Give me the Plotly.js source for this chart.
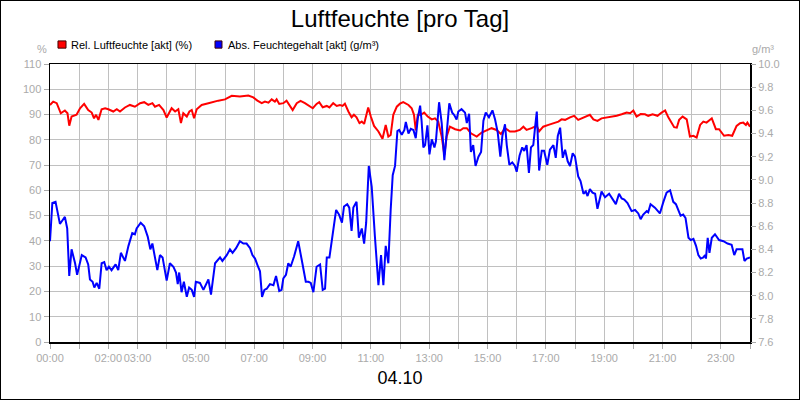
<!DOCTYPE html>
<html>
<head>
<meta charset="utf-8">
<script src="https://cdn.plot.ly/plotly-3.0.1.min.js"></script>
<style>
  html, body { margin: 0; padding: 0; background: #fff; }
  #frame { width: 800px; height: 400px; border: 1px solid #000; box-sizing: border-box; }
  #chart { width: 798px; height: 398px; }
</style>
</head>
<body>
<div id="frame"><div id="chart"></div></div>
<script>
// x axis: hours of the day (04.10)
const hourTicks = [0,1,2,3,4,5,6,7,8,9,10,11,12,13,14,15,16,17,18,19,20,21,22,23,24];
const hourLabels = ['00:00','','02:00','03:00','','05:00','','07:00','','09:00','','11:00','',
    '13:00','','15:00','','17:00','','19:00','','21:00','','23:00',''];

// Rel. Luftfeuchte [akt] (%)
const relHours = [0,0.11,0.23,0.37,0.51,0.6,0.66,0.74,0.91,1.03,1.17,1.31,1.43,1.51,1.58,1.66,1.77,1.89,2.0,2.17,2.29,2.4,2.57,2.74,2.91,3.09,3.23,3.37,3.51,3.6,3.74,3.89,4.0,4.17,4.29,4.4,4.49,4.57,4.69,4.78,4.86,4.94,5.03,5.2,5.43,5.6,5.77,
    6.0,6.23,6.51,6.8,6.97,7.11,7.26,7.37,7.49,7.6,7.71,7.77,7.86,8.0,8.11,8.23,8.32,8.46,8.59,8.74,8.89,9.01,9.14,9.23,9.35,9.49,9.58,9.71,9.83,9.94,10.03,10.11,10.23,10.34,10.42,10.51,10.61,10.69,10.77,10.91,11.0,11.11,11.26,11.4,11.51,11.6,11.68,11.77,11.89,
    12.0,12.11,12.29,12.4,12.48,12.54,12.61,12.72,12.83,12.95,13.09,13.2,13.31,13.43,13.52,13.6,13.71,13.89,14.06,14.17,14.29,14.43,14.63,14.8,14.97,15.14,15.31,15.46,15.6,15.77,15.94,16.11,16.23,16.34,16.51,16.69,16.77,16.91,17.09,17.26,17.43,17.54,17.66,17.83,
    17.97,18.11,18.29,18.4,18.51,18.63,18.77,18.91,19.09,19.26,19.43,19.6,19.77,19.89,20.0,20.11,20.25,20.4,20.51,20.66,20.83,20.97,21.09,21.2,21.31,21.4,21.49,21.57,21.69,21.83,21.94,22.06,22.17,22.29,22.4,22.51,22.69,22.83,22.94,23.11,23.26,23.39,23.54,23.66,23.77,23.86,23.91,24.0];
const relValues = [93.8,95.1,94.5,90.5,91.6,90.5,85.6,89.2,89.9,92.5,94.2,91.8,90.8,88.5,89.9,87.9,92.1,92.5,92.1,91.2,92.1,91.2,92.8,93.8,93.1,94.5,94.9,93.8,94.5,93.1,93.8,91.8,88.8,92.5,91.2,92.1,86.6,90.5,89.2,91.2,91.8,88.5,92.1,93.8,94.5,95.1,95.5,
    96.0,97.4,97.1,97.5,96.8,95.5,94.5,95.1,94.7,96.0,95.1,96.0,94.2,94.5,95.5,93.1,91.8,94.5,95.4,94.5,93.4,92.5,94.2,94.9,92.9,93.4,92.8,94.5,93.4,93.8,93.4,94.3,91.2,88.9,89.9,88.9,86.6,87.2,86.3,92.8,89.2,85.5,83.3,80.4,85.9,81.3,81.9,89.9,93.1,
    94.3,94.9,93.8,92.5,89.9,83.7,89.9,89.9,90.8,89.2,88.1,88.5,87.2,81.3,74.0,81.3,85.2,84.2,83.7,84.6,84.6,82.6,81.3,82.9,83.9,84.6,83.9,82.3,84.6,83.3,83.3,83.9,85.2,83.9,84.6,85.5,83.3,85.2,85.9,86.6,87.2,88.1,87.9,88.9,
    89.5,87.9,88.9,89.5,89.9,88.1,87.5,88.5,88.8,89.2,89.5,90.1,90.8,90.5,91.6,89.2,90.2,90.1,89.5,90.1,89.5,90.8,91.6,88.9,86.6,85.0,84.8,87.9,89.2,88.1,81.3,81.6,80.9,85.9,87.2,86.8,88.5,84.2,84.2,81.6,81.9,81.6,85.5,86.6,86.8,85.9,86.8,85.2];

// Abs. Feuchtegehalt [akt] (g/m³)
const absHours = [0,0.08,0.19,0.34,0.4,0.51,0.59,0.66,0.74,0.86,0.93,1.09,1.22,1.31,1.37,1.46,1.52,1.6,1.69,1.77,1.86,1.94,2.02,2.11,2.25,2.34,2.43,2.57,2.69,2.82,2.91,2.97,3.11,3.23,3.35,3.44,3.51,3.6,3.68,3.77,3.86,4.0,4.11,4.23,4.32,4.38,4.43,4.51,4.59,4.69,4.77,4.86,4.94,5.0,5.14,5.26,5.43,5.52,5.66,5.83,5.91,
    6.06,6.17,6.26,6.38,6.51,6.63,6.74,6.86,6.94,7.03,7.12,7.2,7.27,7.35,7.43,7.54,7.66,7.75,7.86,7.94,8.0,8.09,8.17,8.25,8.37,8.51,8.63,8.77,8.86,8.94,9.03,9.14,9.26,9.35,9.43,9.49,9.58,9.69,9.81,9.91,10.01,10.08,10.19,10.26,10.34,10.4,10.51,10.59,10.69,10.77,10.84,10.93,11.03,11.14,11.26,11.35,11.43,11.51,11.6,11.68,11.75,11.83,11.91,
    11.97,12.06,12.15,12.2,12.29,12.37,12.46,12.54,12.61,12.69,12.74,12.8,12.86,12.94,13.01,13.09,13.18,13.23,13.34,13.43,13.52,13.6,13.69,13.79,13.86,13.94,14.0,14.11,14.23,14.29,14.37,14.43,14.51,14.59,14.69,14.78,14.86,14.94,15.05,15.17,15.26,15.35,15.44,15.51,15.6,15.66,15.75,15.85,15.94,16.0,16.1,16.19,16.26,16.34,16.42,16.49,16.57,16.63,16.69,16.77,16.86,16.94,17.05,17.14,17.26,17.34,17.41,17.49,17.58,17.66,17.75,17.83,
    17.92,18.0,18.11,18.19,18.29,18.37,18.43,18.51,18.6,18.69,18.77,18.91,19.03,19.17,19.31,19.4,19.51,19.6,19.69,19.8,19.94,20.06,20.17,20.25,20.34,20.46,20.51,20.59,20.74,20.82,20.91,21.03,21.14,21.26,21.37,21.46,21.54,21.62,21.71,21.79,21.89,21.97,22.06,22.15,22.23,22.31,22.4,22.46,22.49,22.55,22.61,22.69,22.8,22.94,23.09,23.23,23.37,23.46,23.54,23.63,23.74,23.81,23.89,24.0];
const absValues = [8.47,8.80,8.81,8.62,8.64,8.68,8.58,8.17,8.40,8.28,8.18,8.35,8.33,8.27,8.14,8.12,8.07,8.11,8.06,8.28,8.29,8.22,8.25,8.22,8.27,8.22,8.37,8.30,8.43,8.54,8.53,8.58,8.63,8.60,8.51,8.40,8.45,8.34,8.22,8.35,8.33,8.13,8.28,8.25,8.20,8.10,8.20,8.03,8.12,7.99,8.07,8.05,7.99,8.12,8.11,8.05,8.14,8.01,8.28,8.33,8.30,
    8.35,8.40,8.37,8.41,8.47,8.45,8.45,8.41,8.35,8.32,8.26,8.21,7.99,8.05,8.06,8.10,8.09,8.17,8.04,8.05,8.15,8.18,8.28,8.25,8.34,8.47,8.31,8.12,8.12,8.11,8.03,8.25,8.27,8.05,8.06,8.33,8.33,8.53,8.74,8.70,8.63,8.77,8.79,8.76,8.56,8.76,8.81,8.50,8.58,8.45,8.63,9.12,8.94,8.51,8.09,8.35,8.09,8.43,8.28,8.74,9.04,9.12,9.42,
    9.43,9.39,9.43,9.50,9.40,9.44,9.43,9.36,9.53,9.64,9.51,9.28,9.30,9.47,9.22,9.35,9.28,9.33,9.67,9.49,9.17,9.43,9.66,9.58,9.56,9.52,9.59,9.61,9.58,9.49,9.57,9.24,9.30,9.12,9.20,9.24,9.51,9.58,9.54,9.60,9.52,9.41,9.20,9.38,9.48,9.30,9.13,9.15,9.12,9.07,9.21,9.28,9.25,9.30,9.06,9.28,9.30,9.45,9.59,9.08,9.25,9.25,9.13,9.26,9.30,9.19,9.38,9.45,9.19,9.26,9.16,9.12,
    9.23,9.20,9.03,8.99,8.88,8.90,8.86,8.92,8.89,8.88,8.75,8.90,8.85,8.88,8.83,8.79,8.88,8.84,8.83,8.80,8.73,8.74,8.71,8.66,8.70,8.73,8.72,8.79,8.76,8.74,8.71,8.81,8.89,8.91,8.81,8.79,8.74,8.69,8.70,8.67,8.50,8.48,8.49,8.43,8.35,8.32,8.33,8.35,8.32,8.50,8.37,8.50,8.53,8.48,8.47,8.45,8.44,8.35,8.40,8.40,8.40,8.30,8.32,8.33];

const colors = {
    rel: '#ff0000',
    abs: '#0000ff',
    grid: '#c0c0c0',
    tick: '#aaaaaa',
    frame: '#000000'
};
const font = 'Liberation Sans, Arial, sans-serif';

const traces = [
    {
        x: relHours, y: relValues, type: 'scatter', mode: 'lines',
        name: 'Rel. Luftfeuchte [akt] (%)',
        line: { color: colors.rel, width: 2 }
    },
    {
        x: absHours, y: absValues, type: 'scatter', mode: 'lines', yaxis: 'y2',
        name: 'Abs. Feuchtegehalt [akt] (g/m³)',
        line: { color: colors.abs, width: 2 }
    }
];

const axisCommon = {
    ticks: 'outside',
    ticklen: 5,
    tickcolor: colors.tick,
    tickfont: { size: 11, color: colors.tick, family: font },
    zeroline: false
};

// legend drawn as small squares + text above the plot
const legendSquares = [
    { x0: 0.0114, x1: 0.0229, color: colors.rel },
    { x0: 0.2357, x1: 0.2457, color: colors.abs }
].map(s => ({
    type: 'rect', xref: 'paper', yref: 'paper',
    x0: s.x0, x1: s.x1, y0: 1.057, y1: 1.083,
    fillcolor: s.color, line: { color: '#400000', width: 1 }
}));

const layout = {
    width: 798,
    height: 398,
    paper_bgcolor: '#fff',
    plot_bgcolor: '#fff',
    margin: { l: 49, r: 49, t: 63, b: 57 },
    showlegend: false,
    font: { family: font },
    title: {
        text: 'Luftfeuchte [pro Tag]',
        font: { size: 24, color: '#000', family: font },
        x: 0.5, xanchor: 'center',
        y: 0.955, yanchor: 'middle'
    },
    xaxis: Object.assign({}, axisCommon, {
        range: [0, 24],
        tickmode: 'array',
        tickvals: hourTicks,
        ticktext: hourLabels,
        tickangle: 0,
        showgrid: true,
        gridcolor: colors.grid,
        gridwidth: 1,
        showline: true,
        mirror: true,
        linecolor: colors.frame,
        linewidth: 1.5,
        title: { text: '04.10', font: { size: 18, color: '#000', family: font }, standoff: 8 }
    }),
    yaxis: Object.assign({}, axisCommon, {
        range: [0, 110],
        tick0: 0,
        dtick: 10,
        showgrid: true,
        gridcolor: colors.grid,
        gridwidth: 1,
        showline: true,
        mirror: true,
        linecolor: colors.frame,
        linewidth: 1.5
    }),
    yaxis2: Object.assign({}, axisCommon, {
        overlaying: 'y',
        side: 'right',
        range: [7.6, 10.0],
        tick0: 7.6,
        dtick: 0.2,
        tickformat: '.1f',
        showgrid: false,
        showline: false
    }),
    shapes: legendSquares,
    annotations: [
        { text: '%', xref: 'paper', yref: 'paper', x: -0.011, y: 1.054, xanchor: 'center', yanchor: 'middle',
          showarrow: false, font: { size: 11, color: colors.tick, family: font } },
        { text: 'g/m³', xref: 'paper', yref: 'paper', x: 1.019, y: 1.054, xanchor: 'center', yanchor: 'middle',
          showarrow: false, font: { size: 11, color: colors.tick, family: font } },
        { text: traces[0].name, xref: 'paper', yref: 'paper', x: 0.027, y: 1.07, xanchor: 'left', yanchor: 'middle',
          showarrow: false, font: { size: 11, color: '#000', family: font } },
        { text: traces[1].name, xref: 'paper', yref: 'paper', x: 0.251, y: 1.07, xanchor: 'left', yanchor: 'middle',
          showarrow: false, font: { size: 11, color: '#000', family: font } }
    ]
};

Plotly.newPlot('chart', traces, layout, { displayModeBar: false, staticPlot: true });
</script>
</body>
</html>
